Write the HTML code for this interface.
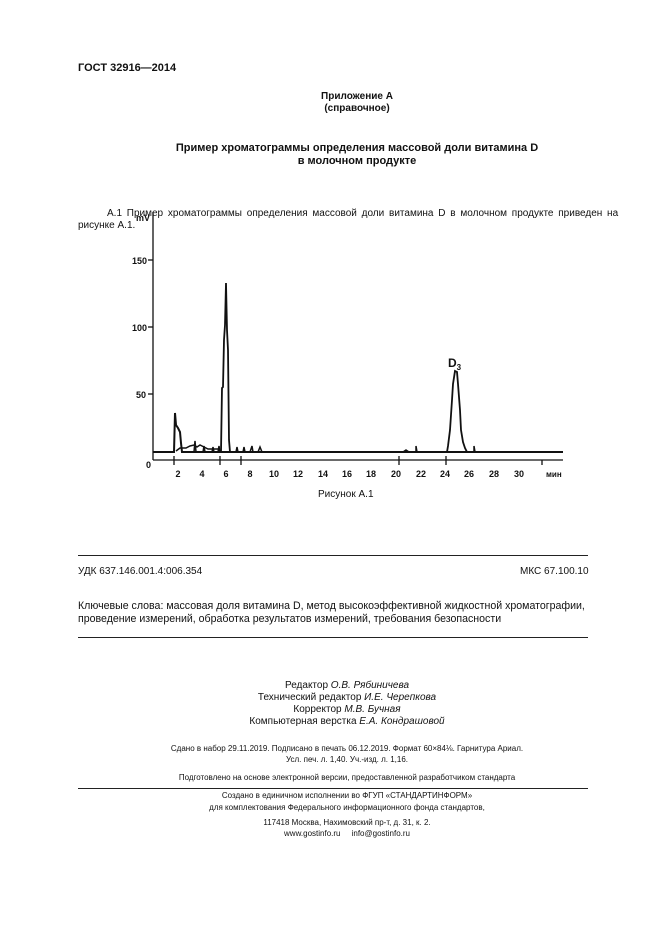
<!DOCTYPE html>
<html><head><meta charset="utf-8"><style>
body{margin:0;width:661px;height:935px;background:#fff;position:relative;font-family:"Liberation Sans",sans-serif;color:#111;overflow:hidden}
.t{position:absolute;white-space:nowrap;line-height:1}
.c{position:absolute;left:0;width:661px;text-align:center;white-space:nowrap;line-height:1}
.hr{position:absolute;left:78px;width:510px;height:1px;background:#222}
</style></head><body>
<div class="t" style="left:78px;top:63px;font-size:11px;font-weight:bold">ГОСТ 32916—2014</div>
<div class="c" style="left:357px;width:0;top:92px;font-size:10px;font-weight:bold"><span style="position:absolute;transform:translateX(-50%)">Приложение А</span></div>
<div class="c" style="left:357px;width:0;top:104px;font-size:10px;font-weight:bold"><span style="position:absolute;transform:translateX(-50%)">(справочное)</span></div>
<div class="c" style="left:357px;width:0;top:143px;font-size:11px;font-weight:bold"><span style="position:absolute;transform:translateX(-50%)">Пример хроматограммы определения массовой доли витамина D</span></div>
<div class="c" style="left:357px;width:0;top:156px;font-size:11px;font-weight:bold"><span style="position:absolute;transform:translateX(-50%)">в молочном продукте</span></div>
<div class="t" style="left:107px;top:209px;font-size:10px;word-spacing:2px">А.1 Пример хроматограммы определения массовой доли витамина D в молочном продукте приведен на</div>
<div class="t" style="left:78px;top:221px;font-size:10px">рисунке А.1.</div>

<svg style="position:absolute;left:0;top:0" width="661" height="500">
<g font-family="Liberation Sans" font-weight="bold" font-size="9" fill="#111">
<text x="136" y="221">mV</text>
<text x="132" y="264">150</text>
<text x="132" y="331">100</text>
<text x="136" y="398">50</text>
<text x="146" y="468">0</text>
<g text-anchor="middle">
<text x="178" y="477">2</text><text x="202" y="477">4</text><text x="226" y="477">6</text><text x="250" y="477">8</text>
<text x="274" y="477">10</text><text x="298" y="477">12</text><text x="323" y="477">14</text><text x="347" y="477">16</text>
<text x="371" y="477">18</text><text x="396" y="477">20</text><text x="421" y="477">22</text><text x="445" y="477">24</text>
<text x="469" y="477">26</text><text x="494" y="477">28</text><text x="519" y="477">30</text>
</g>
<text x="546" y="477" font-size="8">мин</text>
<text x="448" y="367" font-size="12">D<tspan font-size="8" dy="3">3</tspan></text>
</g>
<g stroke="#111" fill="none" stroke-width="1.3">
<line x1="153" y1="212" x2="153" y2="460"/>
<line x1="153" y1="460" x2="563" y2="460"/>
<line x1="153" y1="260" x2="148" y2="260"/><line x1="153" y1="327" x2="148" y2="327"/><line x1="153" y1="394" x2="148" y2="394"/>
<line x1="174" y1="456" x2="174" y2="465"/><line x1="220" y1="456" x2="220" y2="465"/><line x1="241" y1="456" x2="241" y2="465"/>
<line x1="399" y1="456" x2="399" y2="465"/><line x1="446" y1="456" x2="446" y2="465"/><line x1="542" y1="460" x2="542" y2="465"/>
<path stroke-width="2" d="M153 452 L174 452 L175 413 L176 425 L178 428 L180 432 L181 443 L182 452 L190 452 L563 452"/>
<path stroke-width="1.5" d="M176 451 L180 448 L186 448 L190 446 L194 445 L197 447 L200 445 L204 447 L208 449 L214 449 L218 449 L220 451"/>
<path stroke-width="1.5" d="M194 452 L195 441 L196 452 M203 452 L204 446 L205 452 M212 452 L213 447 L214 452 M218 452 L219 446 L220 452"/>
<path stroke-width="1.8" d="M221 452 L222 388 L223 387 L224 340 L225 325 L226 283 L227 330 L228 350 L229 440 L230 452"/>
<path stroke-width="1.5" d="M236 452 L237 447 L238 452 M243 452 L244 447 L245 452 M250 452 L252 446 L253 452 M258 452 L260 447 L262 452 M403 452 L406 450 L409 452 M416 452 L416 446 L417 452 M474 452 L474 446 L475 452"/>
<path stroke-width="1.8" d="M447 452 L448 446 L450 430 L452 400 L453 384 L455 371 L457 372 L458 384 L460 410 L461 430 L463 442 L465 448 L467 452"/>
</g>
</svg>
<div class="t" style="left:318px;top:490px;font-size:10px">Рисунок А.1</div>

<div class="hr" style="top:555px"></div>
<div class="t" style="left:78px;top:567px;font-size:10px">УДК 637.146.001.4:006.354</div>
<div class="t" style="left:520px;top:567px;font-size:10px">МКС 67.100.10</div>
<div class="t" style="left:78px;top:601px;font-size:10.6px">Ключевые слова: массовая доля витамина D, метод высокоэффективной жидкостной хроматографии,</div>
<div class="t" style="left:78px;top:614px;font-size:10.6px">проведение измерений, обработка результатов измерений, требования безопасности</div>
<div class="hr" style="top:637px"></div>

<div class="c" style="top:681px;font-size:10px;padding-left:33px;box-sizing:border-box">Редактор <i>О.В. Рябиничева</i></div>
<div class="c" style="top:693px;font-size:10px;padding-left:33px;box-sizing:border-box">Технический редактор <i>И.Е. Черепкова</i></div>
<div class="c" style="top:705px;font-size:10px;padding-left:33px;box-sizing:border-box">Корректор <i>М.В. Бучная</i></div>
<div class="c" style="top:717px;font-size:10px;padding-left:33px;box-sizing:border-box">Компьютерная верстка <i>Е.А. Кондрашовой</i></div>
<div class="c" style="top:745px;font-size:8px;padding-left:33px;box-sizing:border-box">Сдано в набор 29.11.2019. Подписано в печать 06.12.2019. Формат 60×84⅛. Гарнитура Ариал.</div>
<div class="c" style="top:756px;font-size:8px;padding-left:33px;box-sizing:border-box">Усл. печ. л. 1,40. Уч.-изд. л. 1,16.</div>
<div class="c" style="top:774px;font-size:8px;padding-left:33px;box-sizing:border-box">Подготовлено на основе электронной версии, предоставленной разработчиком стандарта</div>
<div class="hr" style="top:788px"></div>
<div class="c" style="top:792px;font-size:8px;padding-left:33px;box-sizing:border-box">Создано в единичном исполнении во ФГУП «СТАНДАРТИНФОРМ»</div>
<div class="c" style="top:804px;font-size:8px;padding-left:33px;box-sizing:border-box">для комплектования Федерального информационного фонда стандартов,</div>
<div class="c" style="top:819px;font-size:8px;padding-left:33px;box-sizing:border-box">117418 Москва, Нахимовский пр-т, д. 31, к. 2.</div>
<div class="c" style="top:830px;font-size:8px;padding-left:33px;box-sizing:border-box">www.gostinfo.ru &nbsp;&nbsp;&nbsp; info@gostinfo.ru</div>
</body></html>
